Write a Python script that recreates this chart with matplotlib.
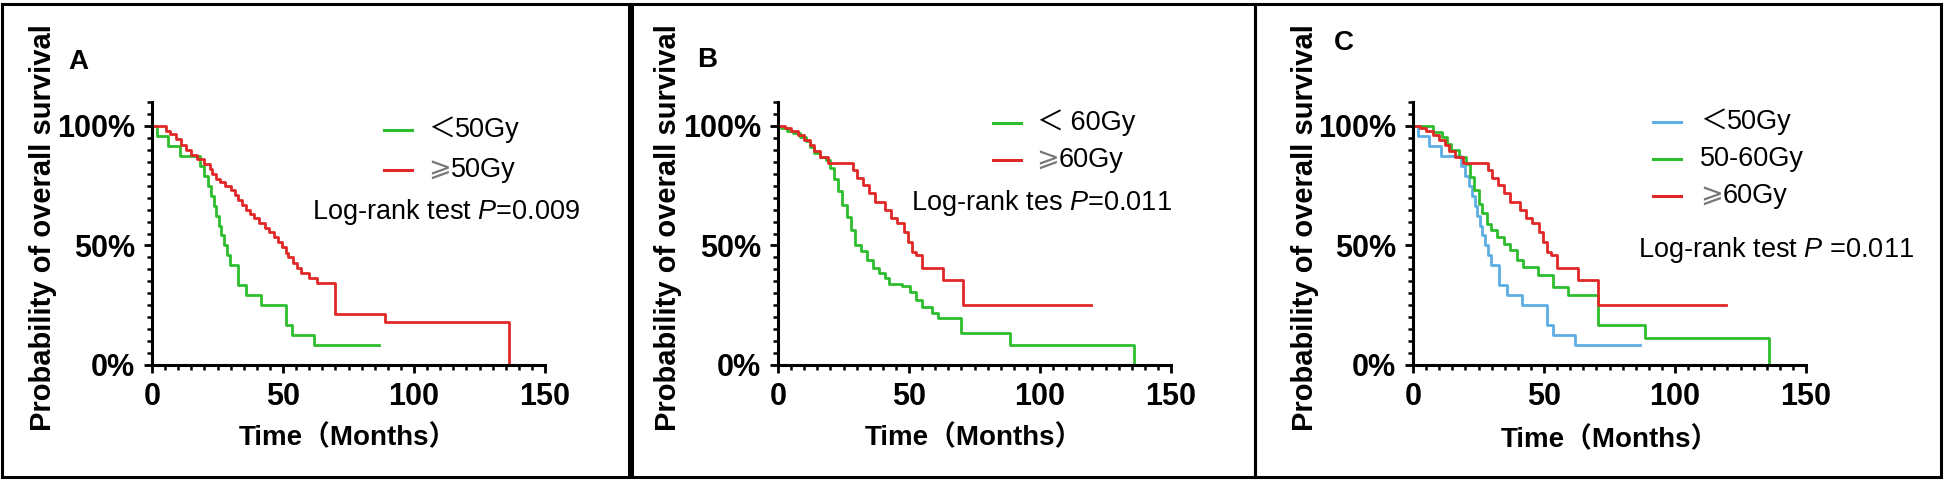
import numpy as np
import matplotlib
matplotlib.use('Agg')
import matplotlib.pyplot as plt
from matplotlib.patches import Rectangle
from matplotlib.ticker import MultipleLocator, FuncFormatter

plt.rcParams['font.family'] = ['Liberation Sans', 'DejaVu Sans', 'Noto Sans CJK SC']
plt.rcParams['mathtext.fontset'] = 'custom'
plt.rcParams['mathtext.rm'] = 'Liberation Sans'
plt.rcParams['mathtext.it'] = 'Liberation Sans:italic'

# Kaplan-Meier curves (months, % surviving)
lt50_t = [0, 2, 6, 10.5, 18.5, 20, 21.5, 22.5, 23.5, 24.5, 25.5, 26.5, 27.5, 28.5,
          29.6, 32.8, 36, 41.5, 51, 53.4, 62, 86.6]
lt50_s = [100, 95.8, 91.7, 87.5, 83.3, 79.2, 75, 70.8, 66.7, 62.5, 58.3, 54.2, 50, 45.8,
          41.7, 33.3, 29.2, 25, 16.7, 12.5, 8.3, 8.3]

ge50_t = [0, 5.2, 7, 9, 11, 13, 15, 17, 20, 22, 23, 24.5, 26, 28, 30, 31.5, 33, 34.5, 36,
          37.5, 39, 41, 43, 44.5, 46.5, 48, 49.5, 51, 52, 54, 55.5, 57, 60, 63, 70, 89, 136.3]
ge50_s = [100, 98, 96.5, 94.5, 92, 90, 88, 86, 84, 82, 80, 78, 76.5, 75, 73, 71, 69, 67, 65,
          63, 61.5, 59.5, 57.5, 55.5, 53.5, 51.5, 49.5, 47, 45, 42.5, 40.5, 38.5, 36.5, 34.5,
          21.5, 18, 0]

lt60_t = [0, 1.2, 3.6, 5.9, 8.3, 10.6, 12.2, 13.7, 16, 18.4, 20, 21.5, 23, 24.6, 26.2, 27.7,
          29.3, 31.6, 33.9, 36.3, 38.6, 41, 42.5, 47.2, 50.2, 52.6, 55, 58.9, 61.2, 69.8, 88.5, 136]
lt60_s = [100, 99, 98, 97, 95.5, 93.5, 91, 88.5, 87, 85.8, 82.4, 78, 72.7, 67, 62, 56.5,
          50, 47.5, 44, 40.6, 38.5, 36.3, 34, 32.9, 30.5, 27.2, 24.4, 21.6, 19.5, 13.2, 8.4, 0]

ge60_t = [0, 2.8, 5.1, 7.5, 9.8, 12.1, 13.7, 16, 19.2, 28.5, 30.1, 32.4, 34.7, 37.1, 41,
          43.3, 45.6, 48, 49.5, 51.1, 52.6, 55, 62.8, 70.6, 119.6]
ge60_s = [100, 99, 97.9, 96.2, 94.1, 92, 89.3, 87.2, 84.4, 81.6, 78.1, 75.3, 71.8, 68.3, 64.9,
          61.4, 59.3, 55.8, 51.6, 47.4, 46, 40.4, 35.6, 25.1, 25.1]

mid_t = [0, 7.7, 11, 12.8, 14.4, 17.7, 20.1, 21.8, 23.4, 25, 26.5, 28.1, 29.8, 32.2, 34.7,
         37.1, 39.6, 42, 47.8, 53.5, 59.2, 70.7, 88.7, 136]
mid_s = [100, 97.5, 95.4, 92.6, 89.8, 87, 84, 78.7, 73, 67.5, 63.4, 59, 56.4, 53.6, 50.8,
         48, 43.9, 41, 37.6, 32.7, 29.2, 16.7, 11.1, 0]

green = '#2dbd2d'
red = '#e02828'
blue = '#5caee4'

W, H = 1944, 480
fig = plt.figure(figsize=(W / 100, H / 100), dpi=100)

def px(x, y):
    return x / W, 1 - y / H

def setup(x0):
    ax = fig.add_axes([x0 / W, 1 - 365 / H, 393 / W, 263 / H])
    ax.set_xlim(0, 150)
    ax.set_ylim(0, 110)
    for s in ['top', 'right']:
        ax.spines[s].set_visible(False)
    for s in ['left', 'bottom']:
        ax.spines[s].set_linewidth(2.2)
    ax.xaxis.set_major_locator(MultipleLocator(50))
    ax.xaxis.set_minor_locator(MultipleLocator(5))
    ax.set_yticks([0, 50, 100])
    ax.yaxis.set_minor_locator(MultipleLocator(5))
    ax.yaxis.set_major_formatter(FuncFormatter(lambda v, p: '%d%%' % v))
    ax.tick_params(which='major', direction='out', length=6, width=2, pad=6,
                   labelsize=22)
    ax.tick_params(which='minor', direction='out', length=3.5, width=1.8)
    for lab in ax.get_xticklabels() + ax.get_yticklabels():
        lab.set_fontweight('bold')
    ax.patch.set_alpha(0)
    return ax

def legend(rows, x_line, x_text):
    for y, c, sym, rest in rows:
        fig.add_artist(plt.Line2D([x_line / W, (x_line + 28) / W], [1 - y / H] * 2,
                                  color=c, lw=2.2))
        t = fig.text(x_text / W, 1 - y / H, sym, fontsize=19.5, va='center', ha='left',
                     color='#777777' if sym == '⩾' else 'black')
        fig.canvas.draw()
        bb = t.get_window_extent()
        fig.text(bb.x1 / W, 1 - y / H, rest, fontsize=19.5, va='center', ha='left')

# panel A
ax = setup(152)
ax.step(lt50_t, lt50_s, where='post', color=green, lw=2)
ax.step(ge50_t, ge50_s, where='post', color=red, lw=2)
legend([(130, green, '＜', '50Gy'), (170, red, '⩾', '50Gy')], 384, 428)
fig.text(*px(312, 212), r'Log-rank test $\mathit{P}$=0.009', fontsize=19.5, va='center')
fig.text(*px(68, 62), 'A', fontsize=20, fontweight='bold', va='center')
fig.text(*px(43, 228), 'Probability of overall survival', fontsize=21, fontweight='bold',
         rotation=90, ha='center', va='center')
fig.text(*px(348, 438), 'Time（Months）', fontsize=20, fontweight='bold', ha='center', va='center')

# panel B
ax = setup(778)
ax.step(lt60_t, lt60_s, where='post', color=green, lw=2)
ax.step(ge60_t, ge60_s, where='post', color=red, lw=2)
legend([(123, green, '＜', ' 60Gy'), (160, red, '⩾', '60Gy')], 993, 1036)
fig.text(*px(911, 203), r'Log-rank tes $\mathit{P}$=0.011', fontsize=19.5, va='center')
fig.text(*px(697, 60), 'B', fontsize=20, fontweight='bold', va='center')
fig.text(*px(668, 228), 'Probability of overall survival', fontsize=21, fontweight='bold',
         rotation=90, ha='center', va='center')
fig.text(*px(974, 438), 'Time（Months）', fontsize=20, fontweight='bold', ha='center', va='center')

# panel C
ax = setup(1413)
ax.step(lt50_t, lt50_s, where='post', color=blue, lw=2)
ax.step(mid_t, mid_s, where='post', color=green, lw=2)
ax.step(ge60_t, ge60_s, where='post', color=red, lw=2)
legend([(122, blue, '＜', '50Gy'), (159, green, '', '50-60Gy'), (196, red, '⩾', '60Gy')],
       1653, 1700)
fig.text(*px(1638, 250), r'Log-rank test $\mathit{P}$ =0.011', fontsize=19.5, va='center')
fig.text(*px(1334, 43), 'C', fontsize=20, fontweight='bold', va='center')
fig.text(*px(1305, 228), 'Probability of overall survival', fontsize=21, fontweight='bold',
         rotation=90, ha='center', va='center')
fig.text(*px(1610, 440), 'Time（Months）', fontsize=20, fontweight='bold', ha='center', va='center')

# panel frames
for x0, x1 in [(2, 629), (632, 1255), (1255, 1941)]:
    fig.add_artist(Rectangle((x0 / W, 1 - 477 / H), (x1 - x0) / W, 473 / H,
                             transform=fig.transFigure, fill=False, lw=2.2, color='black'))

fig.savefig('out.png', dpi=100)
